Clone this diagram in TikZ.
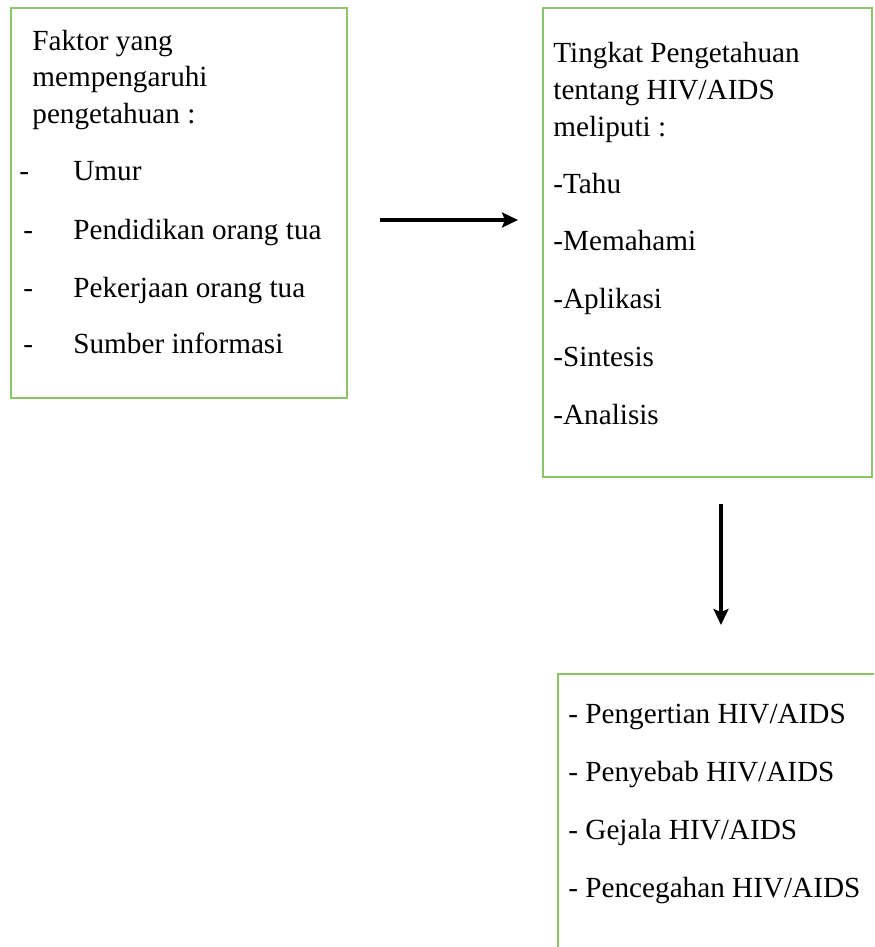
\documentclass[tikz,border=0pt]{standalone}
\usepackage{fontspec}
\setmainfont{Liberation Serif}
\usetikzlibrary{arrows.meta}
\definecolor{boxgreen}{HTML}{8CC46A}
\tikzset{
  box/.style={draw=boxgreen, line width=1pt, rectangle, inner sep=0pt, anchor=north west},
  txt/.style={anchor=base west, inner sep=0pt, font=\fontsize{14.6}{17}\selectfont},
  conn/.style={line width=1.6pt, -{Stealth[length=8pt, width=7.5pt, inset=1.5pt]}}
}
\begin{document}
\begin{tikzpicture}[x=0.5pt, y=-0.5pt]
\clip (0,0) rectangle (874,947);
\fill[white] (0,0) rectangle (874,947);
% boxes
\node[box, minimum width=168pt, minimum height=195pt] (b1) at (10,7) {};
\node[box, minimum width=164.5pt, minimum height=234.5pt] (b2) at (542,7) {};
\node[box, minimum width=170pt, minimum height=150pt] (b3) at (557,673) {};
% box 1 text
\node[txt] (f1) at (32,51) {Faktor yang};
\node[txt] (f2) at (32,87) {mempengaruhi};
\node[txt] (f3) at (32,124) {pengetahuan :};
\node[txt] (d1) at (19,180) {-};
\node[txt] (i1) at (73,180) {Umur};
\node[txt] (d2) at (23,239) {-};
\node[txt] (i2) at (73,239) {Pendidikan orang tua};
\node[txt] (d3) at (23,297) {-};
\node[txt] (i3) at (73,297) {Pekerjaan orang tua};
\node[txt] (d4) at (23,353) {-};
\node[txt] (i4) at (73,353) {Sumber informasi};
% box 2 text
\node[txt] (g1) at (553,63) {Tingkat Pengetahuan};
\node[txt] (g2) at (553,100) {tentang HIV/AIDS};
\node[txt] (g3) at (553,136) {meliputi :};
\node[txt] (k1) at (553,193) {-Tahu};
\node[txt] (k2) at (553,250) {-Memahami};
\node[txt] (k3) at (553,308) {-Aplikasi};
\node[txt] (k4) at (553,366) {-Sintesis};
\node[txt] (k5) at (553,424) {-Analisis};
% box 3 text
\node[txt] (h1) at (568,723) {- Pengertian HIV/AIDS};
\node[txt] (h2) at (568,781) {- Penyebab HIV/AIDS};
\node[txt] (h3) at (568,839) {- Gejala HIV/AIDS};
\node[txt] (h4) at (568,897) {- Pencegahan HIV/AIDS};
% connectors
\coordinate (a1) at (0,220);
\coordinate (a2) at (721,0);
\draw[conn, shorten <=16pt, shorten >=12pt] (b1.east |- a1) -- (b2.west |- a1);
\draw[conn, shorten <=13pt, shorten >=24pt] (a2 |- b2.south) -- (a2 |- b3.north);
\end{tikzpicture}
\end{document}
